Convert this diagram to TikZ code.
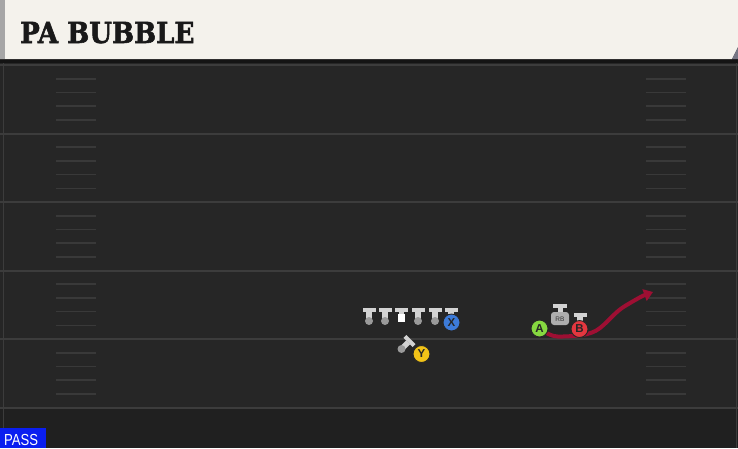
\documentclass[tikz,border=0pt]{standalone}
\usepackage{fontspec}
\setsansfont{Liberation Sans}
\newfontfamily\titlefont{DejaVu Serif}[BoldFont={DejaVu Serif Bold}, BoldFeatures={FakeBold=2}]
\usetikzlibrary{arrows.meta}
\definecolor{headbg}{HTML}{F4F2EC}
\definecolor{fieldbg}{HTML}{262626}
\definecolor{yardln}{HTML}{3C3C3C}
\definecolor{hashln}{HTML}{393939}
\definecolor{tgray}{HTML}{D2D2D2}
\definecolor{dotgray}{HTML}{9A9A9A}
\definecolor{xblue}{HTML}{3D7BD9}
\definecolor{yyellow}{HTML}{F2C318}
\definecolor{agreen}{HTML}{86D840}
\definecolor{bred}{HTML}{E3373F}
\definecolor{routered}{HTML}{9E0F33}
\definecolor{passblue}{HTML}{0A1EF0}
\tikzset{
  player/.style={circle, draw=black!85, line width=0.9pt, minimum size=17pt, inner sep=0pt, font=\sffamily\bfseries\fontsize{11.5}{11.5}\selectfont, text=black!85},
  tman/.pic={
    \fill[tgray] (-6.5,-2) rectangle (6.5,2);
    \fill[tgray] (-2.8,2) rectangle (2.8,10);
    \fill[dotgray] (0,11.3) circle (4);
  },
}
\begin{document}
\begin{tikzpicture}[x=1pt,y=-1pt]
\useasboundingbox (0,0) rectangle (738,448);
% field
\fill[fieldbg] (0,0) rectangle (738,448);
\fill[black!15!fieldbg] (0,408) rectangle (738,448);
\draw[yardln, line width=0.8pt] (3,63) -- (3,448);
\draw[yardln, line width=0.8pt] (736,63) -- (736,448);
\foreach \k in {0,...,5}
  \draw[yardln, line width=2pt] (0,65+68.5*\k) -- (738,65+68.5*\k);
\foreach \k in {0,...,4}
  \foreach \j in {1,...,4} {
    \draw[hashln, line width=1.6pt] (56,65+68.5*\k+13.7*\j) -- (96,65+68.5*\k+13.7*\j);
    \draw[hashln, line width=1.6pt] (646,65+68.5*\k+13.7*\j) -- (686,65+68.5*\k+13.7*\j);
  }
% header
\fill[black!92] (0,58) rectangle (738,63);
\fill[headbg] (0,0) -- (738,0) -- (738,47) -- (732,59) -- (0,59) -- cycle;
\fill[gray!70!blue!30!black!60] (738,47) -- (732,59) -- (738,59) -- cycle;
\fill[gray!70] (0,0) rectangle (5,59);
\node[anchor=base west, inner sep=0pt, xscale=0.9, text=black!90] (title) at (20,43) {\titlefont\bfseries\fontsize{29}{29}\selectfont PA BUBBLE};
% line
\foreach \x in {369,385,418,435}
  \pic at (\x,309.7) {tman};
\fill[tgray] (395,307.7) rectangle (408,311.7);
\fill[tgray] (398.7,311.7) rectangle (404.3,314);
\fill[white] (398,314) rectangle (405,322);
\pic at (451,309.7) {tman};
\pic[rotate=-45] at (409.5,341) {tman};
% backfield
\fill[tgray] (553,304) rectangle (567,308);
\fill[tgray] (557.5,308) rectangle (562.5,312);
\fill[dotgray!80!white, rounded corners=3pt] (551,312) rectangle (569,325);
\node[inner sep=0pt, font=\sffamily\fontsize{6.5}{6.5}\selectfont, text=black!80] (rb) at (560,319) {RB};
\pic at (580,314.5) {tman};
\node[player, fill=xblue] (x) at (451.5,322.5) {X};
\node[player, fill=yyellow] (y) at (421.5,354) {Y};
% route
\coordinate (tip) at (653,292);
\draw[routered, line width=4pt, -{Triangle[length=9pt,width=12pt]}]
  (539.5,329) .. controls (552,337) and (557,337) .. (563,336.5)
  .. controls (575,336) and (590,336) .. (600,328)
  .. controls (610,320) and (615,312) .. (625,306)
  .. controls (635,300) and (642,296) .. (tip);
\node[player, fill=agreen] (a) at (539.5,328.5) {A};
\node[player, fill=bred] (b) at (579.5,329) {B};
% play type
\fill[passblue] (0,428) rectangle (46,448);
\node[anchor=base west, inner sep=0pt, xscale=0.82, text=white, font=\sffamily\fontsize{16}{16}\selectfont] (pass) at (4,445) {PASS};
\end{tikzpicture}
\end{document}
